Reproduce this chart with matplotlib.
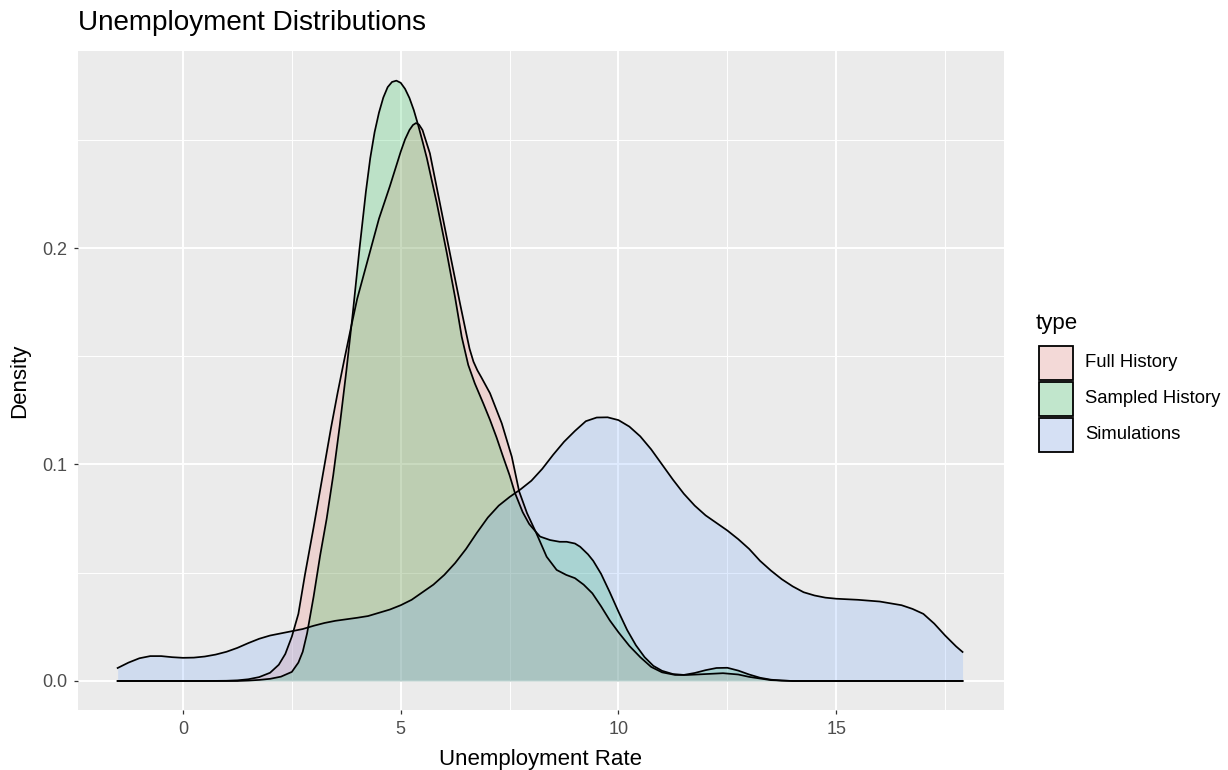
import numpy as np
import matplotlib
matplotlib.use("Agg")
import matplotlib.pyplot as plt
from matplotlib.patches import Rectangle

plt.rcParams['font.family'] = ['Liberation Sans', 'DejaVu Sans']

# density curves (x = unemployment rate, y = density)
full_x = [-1.5, 0.5, 1.0, 1.25, 1.5, 1.75, 2.0, 2.2, 2.35, 2.5, 2.65, 2.8, 3.0, 3.2,
          3.4, 3.55, 3.7, 3.85, 4.0, 4.25, 4.5, 4.75, 5.0, 5.1, 5.2, 5.28, 5.35, 5.42,
          5.5, 5.67, 5.9, 6.13, 6.36, 6.5, 6.58, 6.67, 6.76, 6.85, 7.05, 7.32, 7.55,
          7.72, 7.9, 8.12, 8.35, 8.58, 8.8, 9.0, 9.2, 9.4, 9.6, 9.8, 10.0, 10.25,
          10.5, 10.75, 11.0, 11.3, 11.6, 12.0, 12.4, 12.75, 13.0, 13.5, 14.0, 17.9]
full_y = [0.0, 0.0, 0.0001, 0.0003, 0.0008, 0.0018, 0.0038, 0.0075, 0.0125, 0.0205,
          0.031, 0.049, 0.071, 0.094, 0.117, 0.133, 0.148, 0.1625, 0.1765, 0.195,
          0.2135, 0.2285, 0.2445, 0.2502, 0.2545, 0.2568, 0.2577, 0.2570, 0.2545,
          0.2437, 0.2206, 0.1975, 0.1745, 0.161, 0.1535, 0.1475, 0.1435, 0.1403,
          0.1329, 0.119, 0.1036, 0.0875, 0.0775, 0.068, 0.0574, 0.0513, 0.049,
          0.0475, 0.0445, 0.0405, 0.0345, 0.028, 0.0225, 0.0162, 0.011, 0.0065,
          0.004, 0.0028, 0.0028, 0.0032, 0.0036, 0.003, 0.0019, 0.0004, 0.0, 0.0]

sampled_x = [-1.5, 1.25, 1.5, 1.75, 2.0, 2.25, 2.5, 2.65, 2.75, 2.85, 3.0, 3.15, 3.3,
             3.45, 3.6, 3.75, 3.9, 4.05, 4.2, 4.3, 4.4, 4.5, 4.6, 4.7, 4.8, 4.9, 5.0,
             5.1, 5.2, 5.3, 5.4, 5.5, 5.6, 5.83, 6.06, 6.25, 6.4, 6.55, 6.7, 6.9, 7.05,
             7.2, 7.35, 7.5, 7.62, 7.8, 7.95, 8.12, 8.2, 8.43, 8.65, 8.81, 9.0, 9.12,
             9.3, 9.42, 9.6, 9.8, 10.0, 10.2, 10.4, 10.6, 10.8, 11.0, 11.25, 11.5,
             11.75, 12.0, 12.25, 12.5, 12.75, 13.0, 13.25, 13.5, 13.75, 14.0, 17.9]
sampled_y = [0.0, 0.0, 0.0002, 0.0005, 0.001, 0.002, 0.0042, 0.0085, 0.0135, 0.022,
             0.039, 0.058, 0.075, 0.095, 0.118, 0.143, 0.17, 0.199, 0.226, 0.2415,
             0.2535, 0.2625, 0.2695, 0.2743, 0.2767, 0.2773, 0.2763, 0.2735, 0.2693,
             0.2637, 0.2568, 0.2493, 0.2415, 0.2206, 0.1975, 0.177, 0.159, 0.146,
             0.1375, 0.128, 0.1206, 0.1125, 0.1036, 0.095, 0.087, 0.078, 0.0725,
             0.0685, 0.0667, 0.0651, 0.0643, 0.0643, 0.0635, 0.062, 0.0585, 0.0555,
             0.0495, 0.041, 0.032, 0.0235, 0.0165, 0.011, 0.007, 0.0047, 0.0032,
             0.0028, 0.0037, 0.005, 0.006, 0.0061, 0.0048, 0.003, 0.0015, 0.0006,
             0.0002, 0.0, 0.0]

sim_x = [-1.5, -1.25, -1.0, -0.75, -0.5, -0.25, 0.0, 0.25, 0.5, 0.75, 1.0, 1.25, 1.5,
         1.75, 2.0, 2.25, 2.5, 2.75, 3.0, 3.25, 3.5, 3.75, 4.0, 4.25, 4.5, 4.75, 5.0,
         5.25, 5.5, 5.75, 6.0, 6.25, 6.5, 6.75, 7.0, 7.25, 7.5, 7.75, 8.0, 8.25, 8.5,
         8.75, 9.0, 9.25, 9.5, 9.75, 10.0, 10.25, 10.5, 10.75, 11.0, 11.25, 11.5,
         11.75, 12.0, 12.25, 12.5, 12.75, 13.0, 13.25, 13.5, 13.75, 14.0, 14.25, 14.5,
         14.75, 15.0, 15.5, 16.0, 16.5, 16.75, 17.0, 17.25, 17.5, 17.75, 17.9]
sim_y = [0.006, 0.0085, 0.0105, 0.0115, 0.0115, 0.011, 0.0107, 0.0108, 0.0113,
         0.0122, 0.0135, 0.0153, 0.0175, 0.0195, 0.021, 0.022, 0.023, 0.024, 0.0255,
         0.0268, 0.0278, 0.0285, 0.0292, 0.03, 0.0315, 0.033, 0.035, 0.0375, 0.041,
         0.0445, 0.049, 0.0545, 0.061, 0.0685, 0.0755, 0.081, 0.085, 0.0885, 0.0925,
         0.098, 0.1045, 0.1105, 0.1155, 0.12, 0.1217, 0.1218, 0.1205, 0.1175, 0.113,
         0.107, 0.1, 0.093, 0.0865, 0.081, 0.0765, 0.073, 0.0695, 0.0655, 0.061,
         0.0555, 0.051, 0.047, 0.0437, 0.041, 0.0395, 0.0385, 0.038, 0.0375, 0.0367,
         0.035, 0.0333, 0.031, 0.0265, 0.021, 0.016, 0.0134]

labels = ['Full History', 'Sampled History', 'Simulations']
colors = ['#F8766D', '#00BA38', '#619CFF']
series = [(full_x, full_y), (sampled_x, sampled_y), (sim_x, sim_y)]

W, H = 1228, 770
fig = plt.figure(figsize=(W / 100, H / 100), dpi=100)
ax = fig.add_axes([78 / W, 1 - 710 / H, (1003.5 - 78) / W, (710 - 51) / H])
ax.set_facecolor('#EBEBEB')

for (xs, ys), c in zip(series, colors):
    ax.fill_between(xs, 0, ys, color=c, alpha=0.2, linewidth=0)
    ax.plot(xs, ys, color='black', lw=1.25)

ax.set_xlim(-2.41, 18.84)
ax.set_ylim(-0.0134, 0.291)
ax.set_xticks([0, 5, 10, 15])
ax.set_xticks([2.5, 7.5, 12.5, 17.5], minor=True)
ax.set_yticks([0, 0.1, 0.2])
ax.set_yticklabels(['0.0', '0.1', '0.2'])
ax.set_yticks([0.05, 0.15, 0.25], minor=True)
ax.grid(which='major', color='white', lw=1.4)
ax.grid(which='minor', color='white', lw=0.7)
ax.set_axisbelow(True)
for s in ax.spines.values():
    s.set_visible(False)
ax.tick_params(which='major', direction='out', length=3.2, width=0.9, color='#333333',
               labelcolor='#4D4D4D', labelsize=13, pad=4.5)
ax.tick_params(which='minor', length=0)

ax.set_xlabel('Unemployment Rate', fontsize=16, labelpad=8)
ax.set_ylabel('Density', fontsize=16, labelpad=9)
fig.text(78 / W, 1 - 23 / H, 'Unemployment Distributions', fontsize=20.1,
         ha='left', va='center')

# legend drawn by hand, ggplot style
fig.text(1036 / W, 1 - 323 / H, 'type', fontsize=16, ha='left', va='center')
top = 345
for i, (lab, c) in enumerate(zip(labels, colors)):
    y0 = top + i * 36
    box = (1039 / W, 1 - (y0 + 35) / H)
    fig.patches.append(Rectangle(box, 34 / W, 34 / H, transform=fig.transFigure,
                                 facecolor='#F2F2F2', edgecolor='none'))
    fig.patches.append(Rectangle(box, 34 / W, 34 / H, transform=fig.transFigure,
                                 facecolor=c, alpha=0.2, edgecolor='none'))
    fig.patches.append(Rectangle(box, 34 / W, 34 / H, transform=fig.transFigure,
                                 facecolor='none', edgecolor='black', lw=1.3))
    fig.text(1085 / W, 1 - (y0 + 17.5) / H, lab, fontsize=13.3, ha='left',
             va='center')

fig.savefig('out.png', dpi=100)
